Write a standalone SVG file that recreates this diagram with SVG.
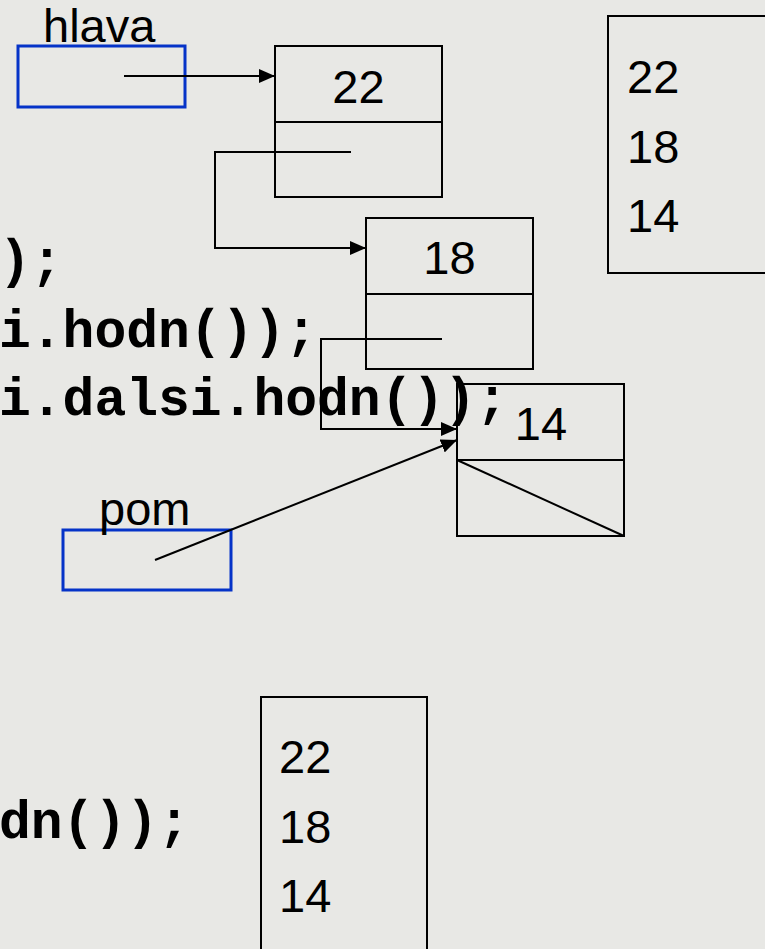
<svg xmlns="http://www.w3.org/2000/svg" width="765" height="949" viewBox="0 0 765 949">
  <defs>
    <marker id="arrow" viewBox="0 0 16 14" refX="16" refY="7" markerWidth="16" markerHeight="14" markerUnits="userSpaceOnUse" orient="auto">
      <path d="M0,0 L16,7 L0,14 z" fill="#000"/>
    </marker>
    <style>
      .bg { fill: #e8e8e5; }
      .box { fill: none; stroke: #000; stroke-width: 2; }
      .var { fill: none; stroke: #0533c8; stroke-width: 3; }
      .num { font-family: "Liberation Sans", Arial, sans-serif; font-size: 47px; fill: #000; }
      .code { font-family: "Liberation Mono", "Courier New", monospace; font-weight: bold; font-size: 53px; fill: #000; }
      .link { fill: none; stroke: #000; stroke-width: 2; marker-end: url(#arrow); }
    </style>
  </defs>

  <rect class="bg" x="0" y="0" width="765" height="949"/>

  <!-- code fragments -->
  <g id="code">
    <text class="code" x="-1" y="277">);</text>
    <text class="code" x="-1" y="347">i.hodn());</text>
    <text class="code" x="-1" y="415">i.dalsi.hodn());</text>
    <text class="code" x="-1" y="838">dn());</text>
  </g>

  <!-- pointer variables -->
  <g id="hlava">
    <rect class="var" x="18" y="46" width="167" height="61"/>
    <text class="num" x="43" y="42">hlava</text>
  </g>
  <g id="pom">
    <rect class="var" x="63" y="530" width="168" height="60"/>
    <text class="num" x="99" y="525">pom</text>
  </g>

  <!-- list nodes -->
  <g id="node22">
    <rect class="box" x="275" y="46" width="167" height="151"/>
    <line class="box" x1="275" y1="122" x2="442" y2="122"/>
    <text class="num" x="358.5" y="103" text-anchor="middle">22</text>
  </g>
  <g id="node18">
    <rect class="box" x="366" y="218" width="167" height="151"/>
    <line class="box" x1="366" y1="294" x2="533" y2="294"/>
    <text class="num" x="449.5" y="274" text-anchor="middle">18</text>
  </g>
  <g id="node14">
    <rect class="box" x="457" y="384" width="167" height="152"/>
    <line class="box" x1="457" y1="460" x2="624" y2="460"/>
    <line class="box" x1="457" y1="460" x2="624" y2="536"/>
    <text class="num" x="541" y="440" text-anchor="middle">14</text>
  </g>

  <!-- output listings -->
  <g id="output-top">
    <rect class="box" x="608" y="16" width="200" height="257"/>
    <text class="num" x="627" y="93">22</text>
    <text class="num" x="627" y="163">18</text>
    <text class="num" x="627" y="232">14</text>
  </g>
  <g id="output-bottom">
    <rect class="box" x="261" y="697" width="166" height="280"/>
    <text class="num" x="279" y="773">22</text>
    <text class="num" x="279" y="843">18</text>
    <text class="num" x="279" y="912">14</text>
  </g>

  <!-- connectors -->
  <g id="connectors">
    <path class="link" d="M124,76 H275"/>
    <path class="link" d="M351,152 H215 V248 H366"/>
    <path class="link" d="M442,339 H321 V429 H457"/>
    <path class="link" d="M155,560 L457,440"/>
  </g>
</svg>
